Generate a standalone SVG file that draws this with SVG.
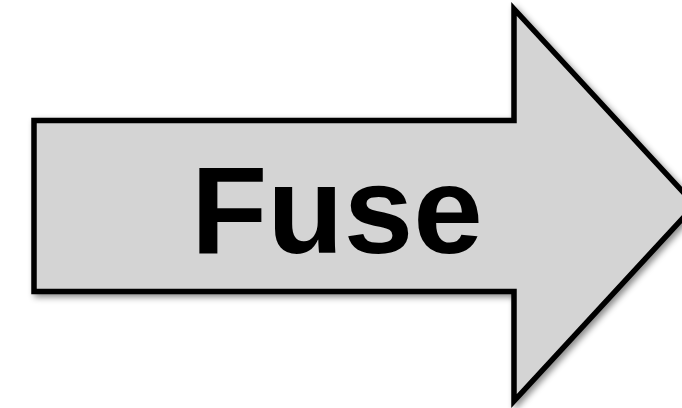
<svg xmlns="http://www.w3.org/2000/svg" width="682" height="408" viewBox="0 0 682 408">
  <defs>
    <filter id="shadow" x="-10%" y="-10%" width="130%" height="130%">
      <feDropShadow dx="3" dy="3" stdDeviation="3" flood-color="#000" flood-opacity="0.45"/>
    </filter>
    <style>
      .arrow { fill: #d4d4d4; stroke: #000; stroke-width: 5.5; stroke-linejoin: miter; stroke-miterlimit: 10; }
      .label { font-family: "Liberation Sans", Arial, Helvetica, sans-serif; font-weight: bold; font-size: 125px; fill: #000; }
    </style>
  </defs>
  <g id="fuse-arrow">
    <path class="arrow" filter="url(#shadow)" d="M34,120.5 L514,120.5 L514,9 L695,205 L514,401 L514,291.5 L34,291.5 Z"/>
    <text class="label" x="191" y="253">Fuse</text>
  </g>
</svg>
